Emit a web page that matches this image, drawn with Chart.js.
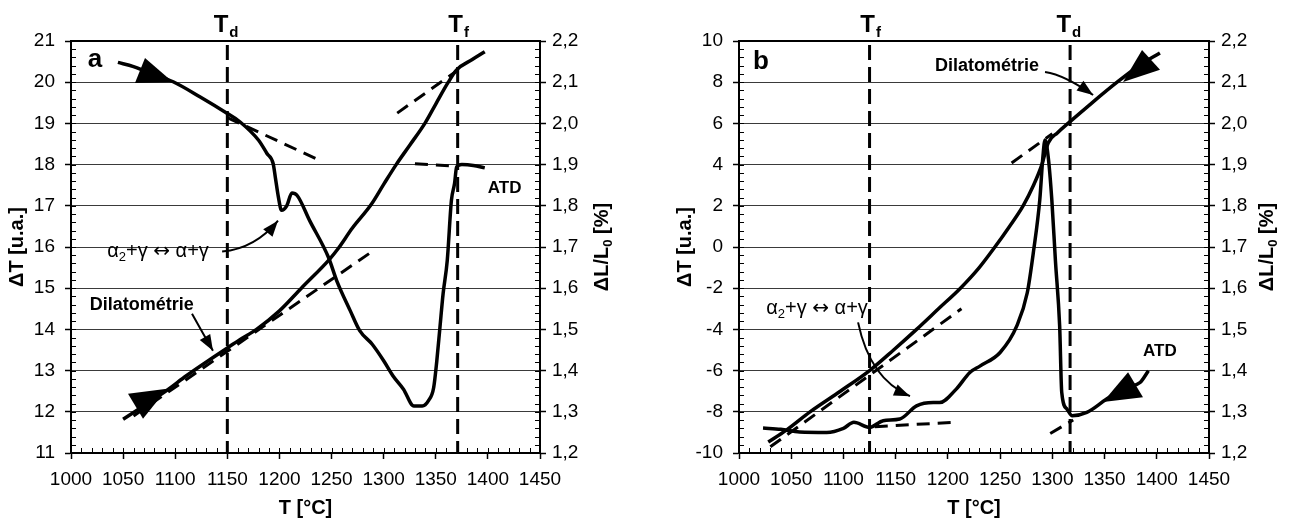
<!DOCTYPE html>
<html>
<head>
<meta charset="utf-8">
<script src="https://cdn.jsdelivr.net/npm/chart.js@4.4.1/dist/chart.umd.min.js"></script>
<style>
  html, body { margin: 0; padding: 0; background: #fff; }
  #wrap { position: relative; width: 1290px; height: 522px; }
  canvas { position: absolute; top: 0; }
</style>
</head>
<body>
<div id="wrap">
  <canvas id="chartA" width="645" height="522" style="left:0"></canvas>
  <canvas id="chartB" width="645" height="522" style="left:645px"></canvas>
</div>
<script>
// ---- panel a : ATD (ΔT, left axis) ----
const atdA_T  = [1045,1060,1073,1098,1124,1150,1162,1180,1188,1194,1196,1199,1202,1207,1212,1217,1229,1247,1255,1268,1277,1289,1300,1309,1319,1329,1337,1343,1348,1351,1354,1357,1361,1365,1368,1370,1375,1386,1397];
const atdA_dT = [20.48,20.38,20.25,20.01,19.64,19.24,19.04,18.59,18.27,18.02,17.7,17.21,16.89,17.0,17.31,17.25,16.64,15.75,15.18,14.45,13.97,13.64,13.24,12.87,12.55,12.14,12.14,12.27,12.59,13.24,14.05,14.86,15.67,17.13,17.54,17.94,18.0,17.98,17.92];
// ---- panel a : dilatometry (ΔL/L0 %, right axis) ----
const dilA_T  = [1050,1070,1092,1111,1137,1150,1162,1178,1200,1221,1248,1256,1270,1288,1300,1312,1325,1340,1350,1362,1370,1385,1397];
const dilA_dL = [1.282,1.315,1.352,1.388,1.433,1.455,1.475,1.50,1.545,1.60,1.67,1.695,1.746,1.803,1.852,1.90,1.947,2.002,2.047,2.10,2.13,2.155,2.174];

// ---- panel b : ATD ----
const atdB_T  = [1023,1040,1058,1084,1100,1110,1125,1138,1154,1170,1186,1192,1208,1221,1231,1250,1266,1276,1282,1288,1291,1293,1296,1299.5,1303,1307,1309,1314,1319,1333,1352,1371,1384,1392];
const atdB_dT = [-8.79,-8.85,-8.98,-9.0,-8.8,-8.51,-8.76,-8.43,-8.35,-7.71,-7.55,-7.55,-6.9,-6.09,-5.77,-5.12,-3.83,-2.22,-0.2,2.3,4.4,5.2,4.4,2.3,-0.7,-3.83,-7.06,-7.87,-8.19,-8.03,-7.38,-6.82,-6.58,-6.01];
// ---- panel b : dilatometry ----
const dilB_T  = [1028,1045,1068,1097,1125,1148,1170,1191,1212,1230,1245,1259,1272,1282,1290,1296,1305,1315,1338,1362,1383,1403];
const dilB_dL = [1.2265,1.255,1.3,1.35,1.4,1.45,1.5,1.55,1.6,1.65,1.7,1.75,1.8,1.85,1.9,1.9525,1.9775,2.0,2.05,2.1,2.14,2.171];

// dashed tangents (axis, two end points)
const tangentsA = [
  { axis: 'y',  T: [1150, 1239], v: [19.14, 18.10] },
  { axis: 'y',  T: [1330, 1366], v: [18.02, 17.97] },
  { axis: 'y1', T: [1060, 1286], v: [1.29, 1.684] },
  { axis: 'y1', T: [1313, 1371], v: [2.025, 2.129] }
];
const tangentsB = [
  { axis: 'y1', T: [1030, 1213], v: [1.215, 1.55] },
  { axis: 'y1', T: [1261, 1300], v: [1.904, 1.975] },
  { axis: 'y',  T: [1130, 1210], v: [-8.72, -8.50] },
  { axis: 'y',  T: [1298, 1320], v: [-9.05, -8.40] }
];

// transformation temperatures
const markerTA = [1150, 1371];
const markerSubA = ['d', 'f'];
const markerTB = [1125, 1317];
const markerSubB = ['f', 'd'];

// tick labels
const xTicks = [1000, 1050, 1100, 1150, 1200, 1250, 1300, 1350, 1400, 1450];
const rightTicks = [1.2, 1.3, 1.4, 1.5, 1.6, 1.7, 1.8, 1.9, 2.0, 2.1, 2.2];

const FONT = 'Arial, "Liberation Sans", sans-serif';
const ARROWFONT = '"DejaVu Sans", sans-serif';
const alphaText = [{ t: 'α' }, { t: '2', sub: true }, { t: '+γ ' }, { t: '↔', fam: ARROWFONT }, { t: ' α+γ' }];

function pts(T, v) { return T.map((t, i) => ({ x: t, y: v[i] })); }

function segFont(s, size, weight) {
  return weight + ' ' + (s.sub ? Math.round(size * 0.65) : size) + 'px ' + (s.fam || FONT);
}
function drawRich(ctx, segs, x, y, size, weight, align) {
  let w = 0;
  segs.forEach(s => { ctx.font = segFont(s, size, weight); w += ctx.measureText(s.t).width; });
  let cx = align === 'center' ? x - w / 2 : (align === 'right' ? x - w : x);
  ctx.textAlign = 'left';
  ctx.textBaseline = 'middle';
  segs.forEach(s => {
    ctx.font = segFont(s, size, weight);
    ctx.fillText(s.t, cx, s.sub ? y + size * 0.3 : y);
    cx += ctx.measureText(s.t).width;
  });
}

const decor = {
  id: 'decor',
  beforeDatasetsDraw(chart, args, o) {
    const ctx = chart.ctx, a = chart.chartArea, x = chart.scales.x;
    ctx.save();
    ctx.strokeStyle = '#000';
    ctx.lineWidth = 3;
    ctx.setLineDash([15, 7]);
    o.markerT.forEach(T => {
      const p = x.getPixelForValue(T);
      ctx.beginPath(); ctx.moveTo(p, a.top + 4); ctx.lineTo(p, a.bottom); ctx.stroke();
    });
    ctx.restore();
  },
  afterDatasetsDraw(chart, args, o) {
    const ctx = chart.ctx, a = chart.chartArea;
    const x = chart.scales.x, y = chart.scales.y, y1 = chart.scales.y1;
    const P = (T, v) => [x.getPixelForValue(T), y.getPixelForValue(v)];
    ctx.save();
    ctx.strokeStyle = '#000';
    ctx.fillStyle = '#000';
    // top frame line
    ctx.lineWidth = 2;
    ctx.beginPath(); ctx.moveTo(a.left, a.top); ctx.lineTo(a.right, a.top); ctx.stroke();
    // minor ticks
    ctx.lineWidth = 1;
    ctx.beginPath();
    for (let t = x.min; t <= x.max + 1e-6; t += o.xMinor) {
      const p = Math.round(x.getPixelForValue(t)) + 0.5;
      ctx.moveTo(p, a.bottom); ctx.lineTo(p, a.bottom - 5);
    }
    for (let v = y.min; v <= y.max + 1e-6; v += o.yMinor) {
      const p = Math.round(y.getPixelForValue(v)) + 0.5;
      ctx.moveTo(a.left, p); ctx.lineTo(a.left + 5, p);
    }
    for (let v = y1.min; v <= y1.max + 1e-6; v += o.y1Minor) {
      const p = Math.round(y1.getPixelForValue(v)) + 0.5;
      ctx.moveTo(a.right, p); ctx.lineTo(a.right - 5, p);
    }
    ctx.stroke();
    // filled arrowheads on the curves
    o.triangles.forEach(tr => {
      ctx.beginPath();
      tr.forEach((q, i) => { const [px, py] = P(q[0], q[1]); i ? ctx.lineTo(px, py) : ctx.moveTo(px, py); });
      ctx.closePath(); ctx.fill();
    });
    // annotation arrows
    o.arrows.forEach(ar => {
      const [sx, sy] = P(ar.from[0], ar.from[1]);
      const [cx, cy] = P(ar.ctrl[0], ar.ctrl[1]);
      const [ex, ey] = P(ar.to[0], ar.to[1]);
      ctx.lineWidth = 2;
      ctx.beginPath(); ctx.moveTo(sx, sy); ctx.quadraticCurveTo(cx, cy, ex, ey); ctx.stroke();
      const ang = Math.atan2(ey - cy, ex - cx), L = 16, W = 6;
      ctx.beginPath();
      ctx.moveTo(ex, ey);
      ctx.lineTo(ex - L * Math.cos(ang) + W * Math.sin(ang), ey - L * Math.sin(ang) - W * Math.cos(ang));
      ctx.lineTo(ex - L * Math.cos(ang) - W * Math.sin(ang), ey - L * Math.sin(ang) + W * Math.cos(ang));
      ctx.closePath(); ctx.fill();
    });
    // texts
    o.labels.forEach(lb => {
      const [px, py] = P(lb.T, lb.v);
      drawRich(ctx, lb.segs, px, py, lb.size, lb.weight, 'center');
    });
    // marker labels T_d / T_f
    ctx.textBaseline = 'alphabetic';
    o.markerT.forEach((T, i) => {
      const p = x.getPixelForValue(T);
      ctx.font = 'bold 24px ' + FONT;
      const w = ctx.measureText('T').width;
      const left = o.markerSub[i] === 'd' ? p - w + 1 : p - w / 2 - 2;
      ctx.textAlign = 'left';
      ctx.fillText('T', left, a.top - 9);
      ctx.font = 'bold 15px ' + FONT;
      ctx.fillText(o.markerSub[i], left + w + 1, a.top - 4);
    });
    // right axis title (reads bottom to top)
    ctx.translate(a.right + o.rightTitleOffset, (a.top + a.bottom) / 2);
    ctx.rotate(-Math.PI / 2);
    drawRich(ctx, [{ t: 'ΔL/L' }, { t: '0', sub: true }, { t: ' [%]' }], 0, 0, 20, 'bold', 'center');
    ctx.restore();
  }
};

function makeChart(id, P) {
  const datasets = [
    { data: pts(P.atdT, P.atdV), yAxisID: 'y', borderColor: '#000', borderWidth: 3.5, pointRadius: 0, cubicInterpolationMode: 'monotone' },
    { data: pts(P.dilT, P.dilV), yAxisID: 'y1', borderColor: '#000', borderWidth: 3.5, pointRadius: 0, cubicInterpolationMode: 'monotone' }
  ];
  P.tangents.forEach(tg => datasets.push({
    data: pts(tg.T, tg.v), yAxisID: tg.axis, borderColor: '#000', borderWidth: 3,
    borderDash: [13, 8], pointRadius: 0
  }));
  return new Chart(document.getElementById(id), {
    type: 'line',
    data: { datasets },
    options: {
      responsive: false,
      animation: false,
      layout: { padding: { top: 41, left: 0, right: 0, bottom: 0 } },
      plugins: { legend: { display: false }, tooltip: { enabled: false }, decor: P.decor },
      scales: {
        x: {
          type: 'linear', min: 1000, max: 1450,
          afterFit: s => { s.height = 69; },
          afterBuildTicks: s => { s.ticks = xTicks.map(v => ({ value: v })); },
          ticks: { font: { family: FONT, size: 19 }, color: '#000', padding: 9, autoSkip: false, maxRotation: 0, callback: v => String(v) },
          grid: { drawOnChartArea: false, tickLength: 6, tickColor: '#000', tickWidth: 1.5 },
          border: { color: '#000', width: 2 },
          title: { display: true, text: 'T [°C]', font: { family: FONT, size: 20, weight: 'bold' }, color: '#000', padding: { top: 0, bottom: 2 } }
        },
        y: {
          position: 'left', min: P.yMin, max: P.yMax,
          afterFit: s => { s.width = P.leftW; },
          ticks: { stepSize: P.yStep, font: { family: FONT, size: 19 }, color: '#000', padding: 10 },
          grid: { color: '#3a3a3a', lineWidth: 1, tickLength: 6, tickColor: '#000', tickWidth: 1.5 },
          border: { color: '#000', width: 2 },
          title: { display: true, text: 'ΔT [u.a.]', font: { family: FONT, size: 20, weight: 'bold' }, color: '#000', padding: { top: P.leftTitlePad, bottom: 0 } }
        },
        y1: {
          position: 'right', min: 1.2, max: 2.2,
          afterFit: s => { s.width = P.rightW; },
          afterBuildTicks: s => { s.ticks = rightTicks.map(v => ({ value: v })); },
          ticks: { font: { family: FONT, size: 19 }, color: '#000', padding: 6, callback: v => v.toFixed(1).replace('.', ',') },
          grid: { drawOnChartArea: false, tickLength: 6, tickColor: '#000', tickWidth: 1.5 },
          border: { color: '#000', width: 2 }
        }
      }
    },
    plugins: [decor]
  });
}

makeChart('chartA', {
  atdT: atdA_T, atdV: atdA_dT, dilT: dilA_T, dilV: dilA_dL, tangents: tangentsA,
  yMin: 11, yMax: 21, yStep: 1, leftW: 71, rightW: 105, leftTitlePad: 5,
  decor: {
    xMinor: 10, yMinor: 0.2, y1Minor: 0.02, rightTitleOffset: 62,
    markerT: markerTA, markerSub: markerSubA,
    triangles: [
      [[1071, 20.59], [1061.4, 19.98], [1097.9, 20.0]],
      [[1054.7, 12.44], [1069.1, 11.83], [1092.1, 12.56]]
    ],
    arrows: [
      { from: [1116.1, 14.38], ctrl: [1126, 13.93], to: [1136.2, 13.48] },
      { from: [1145, 15.89], ctrl: [1176.6, 15.96], to: [1198.6, 16.64] }
    ],
    labels: [
      { T: 1023, v: 20.54, segs: [{ t: 'a' }], size: 26, weight: 'bold' },
      { T: 1416, v: 17.42, segs: [{ t: 'ATD' }], size: 17, weight: 'bold' },
      { T: 1068, v: 14.6, segs: [{ t: 'Dilatométrie' }], size: 18, weight: 'bold' },
      { T: 1083.5, v: 15.89, segs: alphaText, size: 20, weight: 'normal' }
    ]
  }
});

makeChart('chartB', {
  atdT: atdB_T, atdV: atdB_dT, dilT: dilB_T, dilV: dilB_dL, tangents: tangentsB,
  yMin: -10, yMax: 10, yStep: 2, leftW: 94, rightW: 81, leftTitlePad: 28,
  decor: {
    xMinor: 10, yMinor: 0.4, y1Minor: 0.02, rightTitleOffset: 58.5,
    markerT: markerTB, markerSub: markerSubB,
    triangles: [
      [[1385.9, 9.56], [1367.7, 8.01], [1403.1, 8.6]],
      [[1372.5, -6.08], [1348.5, -7.53], [1386.8, -7.29]]
    ],
    arrows: [
      { from: [1293, 8.5], ctrl: [1312, 8.35], to: [1339, 7.38] },
      { from: [1114, -3.66], ctrl: [1125.4, -6.42], to: [1163.7, -7.24] }
    ],
    labels: [
      { T: 1021, v: 8.98, segs: [{ t: 'b' }], size: 26, weight: 'bold' },
      { T: 1237.5, v: 8.79, segs: [{ t: 'Dilatométrie' }], size: 18, weight: 'bold' },
      { T: 1403, v: -5.06, segs: [{ t: 'ATD' }], size: 17, weight: 'bold' },
      { T: 1074.7, v: -2.98, segs: alphaText, size: 20, weight: 'normal' }
    ]
  }
});
</script>
</body>
</html>
